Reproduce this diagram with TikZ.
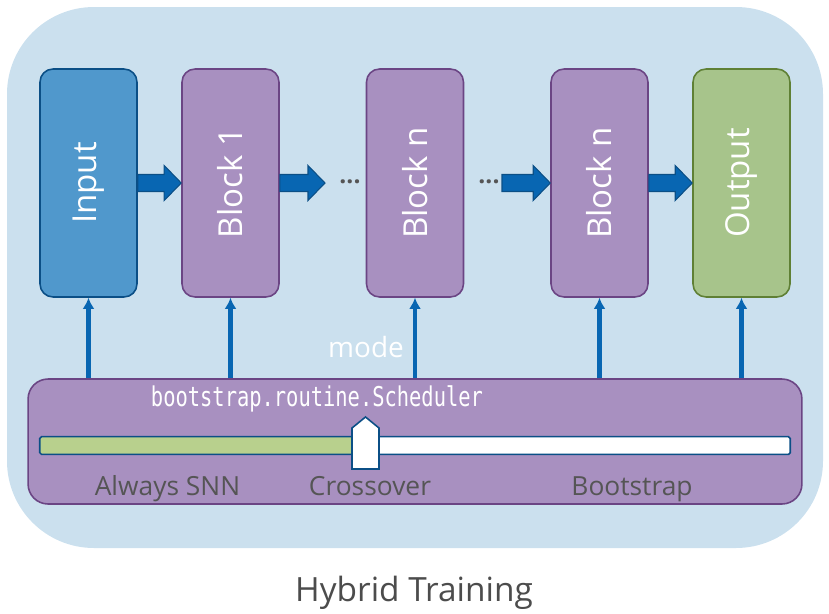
\documentclass[tikz,border=0pt]{standalone}
\usepackage{fontspec}
\setmainfont{Open Sans}
\newfontfamily\codefont{DejaVu Sans Mono}
\usetikzlibrary{calc,arrows.meta}

\definecolor{bgblue}{HTML}{CBE0EE}
\definecolor{infill}{HTML}{5098CC}
\definecolor{inborder}{HTML}{0B4F86}
\definecolor{blkfill}{HTML}{A890C0}
\definecolor{blkborder}{HTML}{6B4584}
\definecolor{outfill}{HTML}{A7C48B}
\definecolor{outborder}{HTML}{5F8035}
\definecolor{arrowblue}{HTML}{0866B2}
\definecolor{slidegreen}{HTML}{B8D08D}
\definecolor{labelgray}{HTML}{555555}

\tikzset{>=latex}

\begin{document}
\begin{tikzpicture}[x=0.02cm, y=-0.02cm]

	\tikzstyle{stage} = [rectangle, rounded corners=0.26cm, minimum width=1.94cm, minimum height=4.56cm, line width=0.9pt, inner sep=0pt]
	\tikzstyle{stage_in} = [stage, draw=inborder, fill=infill]
	\tikzstyle{stage_block} = [stage, draw=blkborder, fill=blkfill]
	\tikzstyle{stage_out} = [stage, draw=outborder, fill=outfill]
	\tikzstyle{stage_text} = [rotate=90, text=white, font=\fontsize{18.8}{22}\selectfont]
	\tikzstyle{fatarrow} = [draw=inborder, fill=arrowblue, line width=0.6pt, line join=miter,
		to path={($(\tikztostart)+(0,-8.5)$) -- ($(\tikztotarget)+(-17,-8.5)$) -- ($(\tikztotarget)+(-17,-17.5)$) -- (\tikztotarget)
		-- ($(\tikztotarget)+(-17,17.5)$) -- ($(\tikztotarget)+(-17,8.5)$) -- ($(\tikztostart)+(0,8.5)$) -- cycle}]
	\tikzstyle{modearrow} = [draw=arrowblue, line width=2.3pt, -{Latex[length=6.3pt,width=6.8pt]}]
	\tikzstyle{dots} = [text=labelgray, font=\fontsize{14}{16}\selectfont\bfseries]
	\tikzstyle{phase} = [anchor=base, text=labelgray, font=\fontsize{15}{18}\selectfont]

	\useasboundingbox (0,0) rectangle (829,613);
	\fill[bgblue, rounded corners=1.74cm] (7,7) rectangle (823,548);

%------------------------------------------------------------
	\node[stage_in, label={[stage_text]center:Input}] (in) at (88.5,183) {};
	\node[stage_block, label={[stage_text]center:Block 1}] (b1) at (230.5,183) {};
	\node[stage_block, label={[stage_text]center:Block n}] (bn) at (415,183) {};
	\node[stage_block, label={[stage_text]center:Block n}] (bm) at (599.5,183) {};
	\node[stage_out, label={[stage_text]center:Output}] (out) at (741.5,183) {};

	\node[dots] (dots1) at (350,182) {...};
	\node[dots] (dots2) at (489,182) {...};
	\coordinate (a2end) at (325,183);
	\coordinate (a3start) at (502,183);

	\draw[fatarrow] (in.east) to (b1.west);
	\draw[fatarrow] (b1.east) to (a2end);
	\draw[fatarrow] (a3start) to (bm.west);
	\draw[fatarrow] (bm.east) to (out.west);

%------------------------------------------------------------
	\node[rectangle, rounded corners=0.4cm, draw=blkborder, fill=blkfill, line width=0.9pt,
		minimum width=15.48cm, minimum height=2.5cm] (sched) at (415,441.5) {};
	\node[text=white, xscale=0.75, font=\fontsize{15.5}{18}\codefont] (schedname) at (317,399) {bootstrap.routine.Scheduler};

	\draw[modearrow] (sched.north -| in.south) -- (in.south);
	\draw[modearrow] (sched.north -| b1.south) -- (b1.south);
	\draw[modearrow] (sched.north -| bn.south) -- (bn.south);
	\draw[modearrow] (sched.north -| bm.south) -- (bm.south);
	\draw[modearrow] (sched.north -| out.south) -- (out.south);

	\node[anchor=base, text=white, font=\fontsize{15.9}{18}\selectfont] (mode) at (366,357) {mode};

%------------------------------------------------------------
	\node[rectangle, rounded corners=1pt, fill=white, minimum width=15cm, minimum height=0.34cm, inner sep=0pt] (bar) at (415,445.5) {};
	\coordinate (thumb) at (365.5,445);
	\fill[slidegreen] (bar.north west) rectangle (thumb |- bar.south);
	\draw[inborder, line width=0.9pt, rounded corners=1pt] (bar.north west) rectangle (bar.south east);
	\draw[inborder, fill=white, line width=0.9pt] (thumb) ++(-13.5,-17) -- ++(13.5,-11) -- ++(13.5,11) -- ++(0,41) -- ++(-27,0) -- cycle;

	\node[phase] (always) at (167.5,495) {Always SNN};
	\node[phase] (cross) at (370,495) {Crossover};
	\node[phase] (boot) at (632,495) {Bootstrap};

%------------------------------------------------------------
	\node[anchor=base, text=labelgray!90!black, font=\fontsize{19}{22}\selectfont] (title) at (414,601) {Hybrid Training};

\end{tikzpicture}
\end{document}
